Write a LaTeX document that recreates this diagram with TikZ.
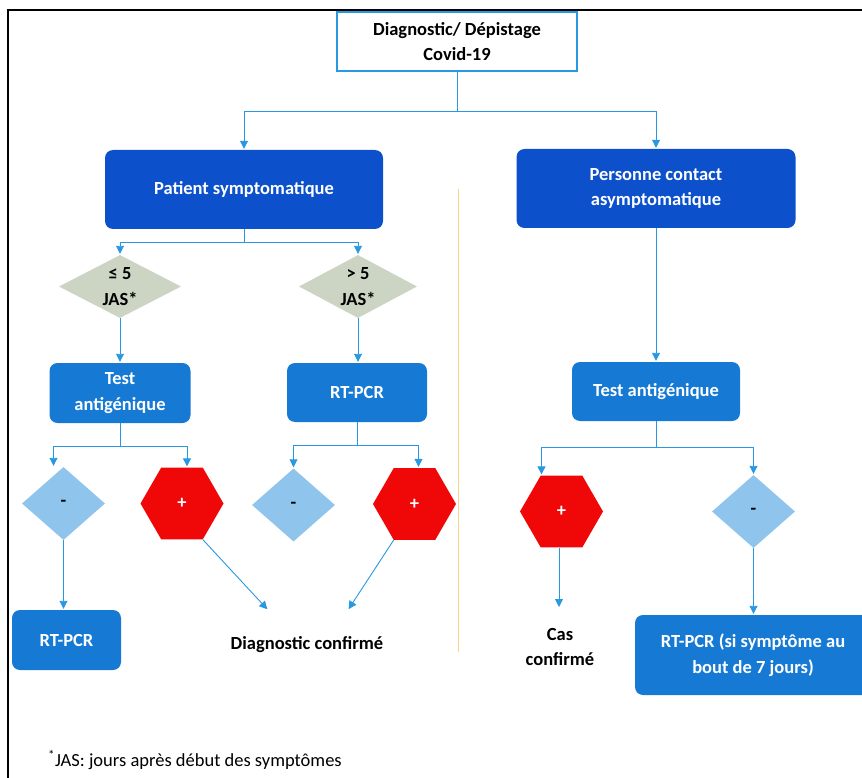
\documentclass[tikz,border=0pt]{standalone}
\usepackage{fontspec}
\setmainfont{Carlito}
\usetikzlibrary{shapes.geometric,arrows.meta,calc}
\definecolor{dkblue}{RGB}{12,80,204}
\definecolor{mdblue}{RGB}{22,122,212}
\definecolor{ltblue}{RGB}{143,196,236}
\definecolor{grdia}{RGB}{204,212,196}
\definecolor{hexred}{RGB}{240,8,8}
\definecolor{conn}{RGB}{40,152,226}
\definecolor{sepline}{RGB}{246,212,140}
\begin{document}
\begin{tikzpicture}[x=1pt,y=-1pt,
  font=\fontsize{18.5}{25.5}\selectfont\bfseries,
  box/.style={rectangle, rounded corners=8pt, align=center, text=white, inner sep=0pt},
  topbox/.style={rectangle, draw=conn, line width=1.2pt, fill=white, align=center, inner sep=0pt, minimum width=240pt, minimum height=59pt},
  jasdia/.style={diamond, fill=grdia, inner sep=0pt, minimum width=122pt, minimum height=63pt},
  negbox/.style={diamond, fill=ltblue, inner sep=0pt, minimum width=83pt, minimum height=73pt},
  posbox/.style={regular polygon, regular polygon sides=6, fill=hexred, text=white, inner sep=0pt, minimum size=83pt},
  lbl/.style={align=center, inner sep=0pt},
  ln/.style={draw=conn, line width=0.9pt},
  arr/.style={ln, -{Triangle[width=8pt,length=8pt]}, shorten >=1pt}
]
\useasboundingbox (0,0) rectangle (862,778);
\clip (0,0) rectangle (862,778);
% frame
\draw[line width=2pt] (8,790) -- (8,10) -- (875,10) -- (875,790);
% separator
\draw[sepline, line width=1pt] (458,189) -- (458,652);
% nodes
\node[topbox] (top) at (457,41.5) {Diagnostic/ Dépistage\\Covid-19};
\node[box, fill=dkblue, minimum width=278pt, minimum height=79pt] (ps) at (244,189.5) {Patient symptomatique};
\node[box, fill=dkblue, minimum width=279pt, minimum height=79pt] (pc) at (656,188.5) {Personne contact\\asymptomatique};
\node[jasdia] (d1) at (120,286.5) {};
\node[lbl] (d1t) at (d1) {≤ 5\\JAS*};
\node[jasdia, minimum width=118pt] (d2) at (358,286.5) {};
\node[lbl] (d2t) at (d2) {> 5\\JAS*};
\node[box, fill=mdblue, minimum width=141pt, minimum height=60pt] (ta1) at (120,393) {Test\\antigénique};
\node[box, fill=mdblue, minimum width=140pt, minimum height=59pt] (rt1) at (357,392.5) {RT-PCR};
\node[negbox] (m1) at (63.5,503.5) {-};
\node[posbox] (p1) at (182,503.5) {+};
\node[negbox] (m2) at (293.5,505) {-};
\node[posbox] (p2) at (414.5,504) {+};
\node[box, fill=mdblue, minimum width=109pt, minimum height=60pt] (rt2) at (66.5,640) {RT-PCR};
\node[lbl] (dc) at (307,645) {Diagnostic confirmé};
\node[box, fill=mdblue, minimum width=168pt, minimum height=59pt] (ta2) at (656,391.5) {Test antigénique};
\node[posbox] (p3) at (561.5,511.5) {+};
\node[negbox] (m3) at (753.5,511.5) {-};
\node[lbl] (cc) at (560,647) {Cas\\confirmé};
\node[box, fill=mdblue, minimum width=236pt, minimum height=80pt] (rt3) at (753,655) {RT-PCR (si symptôme au\\bout de 7 jours)};
\node[anchor=west, inner sep=0pt, font=\fontsize{18.5}{22}\selectfont\mdseries] (fn) at (48,760) {\textsuperscript{*}JAS: jours après début des symptômes};
% connectors
\coordinate (j1) at (457,111);
\draw[ln] (top.south) -- (j1);
\draw[arr] (j1) -| (ps.north);
\draw[arr] (j1) -| (pc.north);
\coordinate (j2) at (244,242);
\draw[ln] (ps.south) -- (j2);
\draw[arr] (j2) -| (d1.north);
\draw[arr] (j2) -| (d2.north);
\draw[arr] (d1.south) -- (d1.south |- ta1.north);
\draw[arr] (d2.south) -- (d2.south |- rt1.north);
\coordinate (j3) at (120,446);
\draw[ln] (ta1.south) -- (j3);
\draw[arr] (j3) -| ($(m1.north)+(-10,0)$);
\draw[arr] (j3) -| ($(p1.north)+(5,0)$);
\coordinate (j4) at (357,445);
\draw[ln] (rt1.south) -- (j4);
\draw[arr] (j4) -| (m2.north);
\draw[arr] (j4) -| ($(p2.north)+(4,0)$);
\draw[arr] (m1.south) -- (m1.south |- rt2.north);
\coordinate (a1) at (268,610);
\draw[arr] (p1.-60) -- (a1);
\coordinate (a2) at (348,610);
\draw[arr] (p2.-120) -- (a2);
\draw[arr] (pc.south) -- (pc.south |- ta2.north);
\coordinate (j5) at (656,447);
\draw[ln] (ta2.south) -- (j5);
\draw[arr] (j5) -| ($(p3.north)+(-20,0)$);
\draw[arr] (j5) -| (m3.north);
\coordinate (a3) at (559,608);
\draw[arr] (p3.south -| a3) -- (a3);
\draw[arr] (m3.south) -- (m3.south |- rt3.north);
\end{tikzpicture}
\end{document}
